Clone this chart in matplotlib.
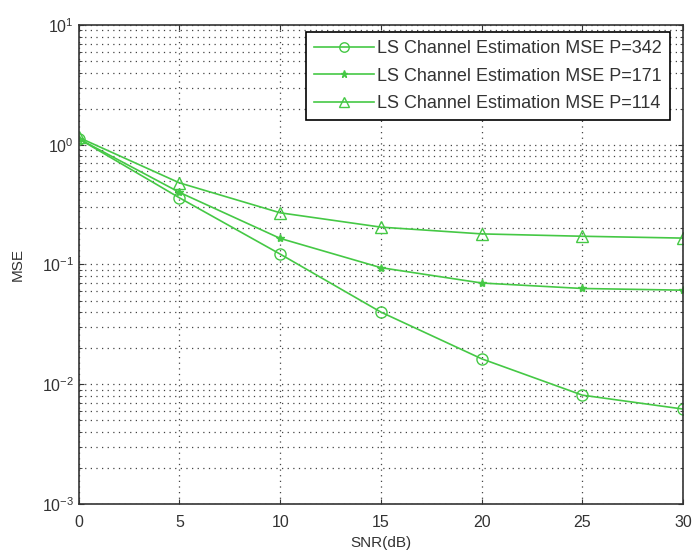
import matplotlib
matplotlib.use("Agg")
import matplotlib.pyplot as plt
from matplotlib.ticker import LogLocator, NullFormatter

snr = [0, 5, 10, 15, 20, 25, 30]
mse_342 = [1.12, 0.36, 0.122, 0.040, 0.0163, 0.0081, 0.0062]
mse_171 = [1.12, 0.40, 0.165, 0.094, 0.070, 0.063, 0.061]
mse_114 = [1.15, 0.48, 0.27, 0.205, 0.180, 0.172, 0.166]
labels = ["LS Channel Estimation MSE P=342",
          "LS Channel Estimation MSE P=171",
          "LS Channel Estimation MSE P=114"]

plt.rcParams['font.family'] = ['Liberation Sans', 'DejaVu Sans']
green = '#45c845'

fig = plt.figure(figsize=(6.97, 5.55), dpi=100)
# right edge kept a little inside so the "30" tick label is not clipped
ax = fig.add_axes([0.113, 0.092, 0.867, 0.863])

ax.semilogy(snr, mse_342, '-o', color=green, mfc='none', ms=8, lw=1.2, label=labels[0])
ax.semilogy(snr, mse_171, '-*', color=green, ms=6, lw=1.2, label=labels[1])
ax.semilogy(snr, mse_114, '-^', color=green, mfc='none', ms=8, lw=1.2, label=labels[2])

ax.set_xlim(0, 30)
ax.set_ylim(1e-3, 10)
ax.set_xticks([0, 5, 10, 15, 20, 25, 30])
ax.yaxis.set_major_locator(LogLocator(base=10, numticks=10))
ax.yaxis.set_minor_locator(LogLocator(base=10, subs=range(2, 10), numticks=10))
ax.yaxis.set_minor_formatter(NullFormatter())
ax.grid(True, which='both', linestyle=(0, (1, 3.5)), color='#444444', lw=0.9)
ax.tick_params(direction='in', which='both', labelsize=11.5, colors='#333333', top=True, right=True)
ax.tick_params(axis='x', pad=8)
for s in ax.spines.values():
    s.set_color('#333333')
    s.set_linewidth(1.2)

ax.set_xlabel('SNR(dB)', fontsize=11, color='#333333', labelpad=4)
ax.set_ylabel('MSE', fontsize=11, color='#333333', labelpad=12)

leg = ax.legend(loc='upper right', bbox_to_anchor=(0.979, 0.985), borderaxespad=0,
                fontsize=13, fancybox=False, framealpha=1, edgecolor='black',
                handlelength=3.3, labelspacing=0.58, handletextpad=0.2,
                borderpad=0.45, markerscale=0.85)
leg.get_frame().set_linewidth(1.2)
for t in leg.get_texts():
    t.set_color('#333333')

fig.savefig('out.png', dpi=100)
